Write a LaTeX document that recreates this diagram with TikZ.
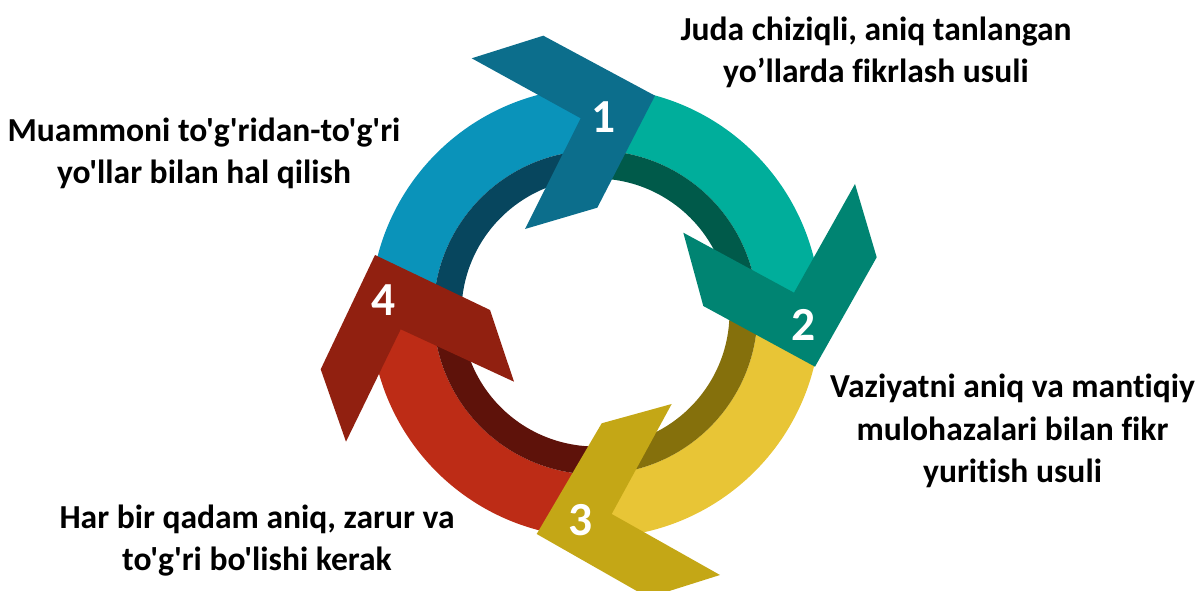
\documentclass[tikz,border=0pt]{standalone}
\usepackage{fontspec}
\newfontfamily\notefont{Carlito}[Ligatures=NoCommon]

\definecolor{bandblue}{HTML}{0A93BA}
\definecolor{bandbluedark}{HTML}{07465E}
\definecolor{arrowblue}{HTML}{0C6E8C}
\definecolor{bandteal}{HTML}{00AE9B}
\definecolor{bandtealdark}{HTML}{005A4A}
\definecolor{arrowteal}{HTML}{008472}
\definecolor{bandyellow}{HTML}{E8C536}
\definecolor{bandyellowdark}{HTML}{85700C}
\definecolor{arrowyellow}{HTML}{C4A716}
\definecolor{bandred}{HTML}{BD2C16}
\definecolor{bandreddark}{HTML}{5E120A}
\definecolor{arrowred}{HTML}{912010}

\begin{document}
\begin{tikzpicture}[x=0.02cm, y=0.02cm,
        note/.style={font=\notefont\bfseries\fontsize{19.1}{24}\selectfont, align=center, text=black},
        num/.style={font=\notefont\bfseries\fontsize{27}{30}\selectfont, text=white}]
        %\draw[color=lightgray, step=50] (0, 0) grid (1204, 591);
        \useasboundingbox (0, 0) rectangle (1204, 591);
        \clip (0, 0) rectangle (1204, 591);
        \begin{scope}[shift={(595.5, 278.5)}]
            % blue band
            \fill[bandblue] (179:225) arc[start angle=179, end angle=89, radius=225] -- (89:162) arc[start angle=89, end angle=179, radius=162] -- cycle;
            \fill[bandbluedark] (179:162) arc[start angle=179, end angle=89, radius=162] -- (89:134) arc[start angle=89, end angle=179, radius=134] -- cycle;
            % teal band
            \fill[bandteal] (89:225) arc[start angle=89, end angle=1, radius=225] -- (1:162) arc[start angle=1, end angle=89, radius=162] -- cycle;
            \fill[bandtealdark] (89:162) arc[start angle=89, end angle=1, radius=162] -- (1:134) arc[start angle=1, end angle=89, radius=134] -- cycle;
            % yellow band
            \fill[bandyellow] (1:225) arc[start angle=1, end angle=-89, radius=225] -- (-89:162) arc[start angle=-89, end angle=1, radius=162] -- cycle;
            \fill[bandyellowdark] (1:162) arc[start angle=1, end angle=-89, radius=162] -- (-89:134) arc[start angle=-89, end angle=1, radius=134] -- cycle;
            % red band
            \fill[bandred] (271:225) arc[start angle=271, end angle=179, radius=225] -- (179:162) arc[start angle=179, end angle=271, radius=162] -- cycle;
            \fill[bandreddark] (271:162) arc[start angle=271, end angle=179, radius=162] -- (179:134) arc[start angle=179, end angle=271, radius=134] -- cycle;
        \end{scope}
        \fill[arrowblue] (471.7, 532.7) -- (543.3, 555.3) -- (655, 495.3) -- (597.3, 383.3) -- (525, 362) -- (580.7, 472.7) -- cycle;
        \fill[arrowteal] (855, 407) -- (876.7, 333.7) -- (815, 224.3) -- (703.3, 285) -- (683.3, 358.3) -- (794, 298.3) -- cycle;
        \fill[arrowyellow] (720, 16) -- (648.4, -6.6) -- (536.7, 57) -- (601.7, 167.7) -- (671.7, 187) -- (611.7, 77) -- cycle;
        \fill[arrowred] (346, 149.3) -- (320.7, 221.7) -- (375, 336) -- (490, 281) -- (514, 209.3) -- (400.7, 261.7) -- cycle;
        \node[num] (n1) at (604, 473.7) {1};
        \node[num] (n2) at (803.7, 266) {2};
        \node[num] (n3) at (580.5, 71) {3};
        \node[num] (n4) at (384, 290.5) {4};
        \node[note] (t1) at (876, 538.5) {Juda chiziqli, aniq tanlangan\\yo’llarda fikrlash usuli};
        \node[note] (t2) at (1012.5, 160) {Vaziyatni aniq va mantiqiy\\mulohazalari bilan fikr\\yuritish usuli};
        \node[note] (t3) at (257, 50.7) {Har bir qadam aniq, zarur va\\to'g'ri bo'lishi kerak};
        \node[note] (t4) at (204, 437.3) {Muammoni to'g'ridan-to'g'ri\\yo'llar bilan hal qilish};
\end{tikzpicture}
\end{document}
